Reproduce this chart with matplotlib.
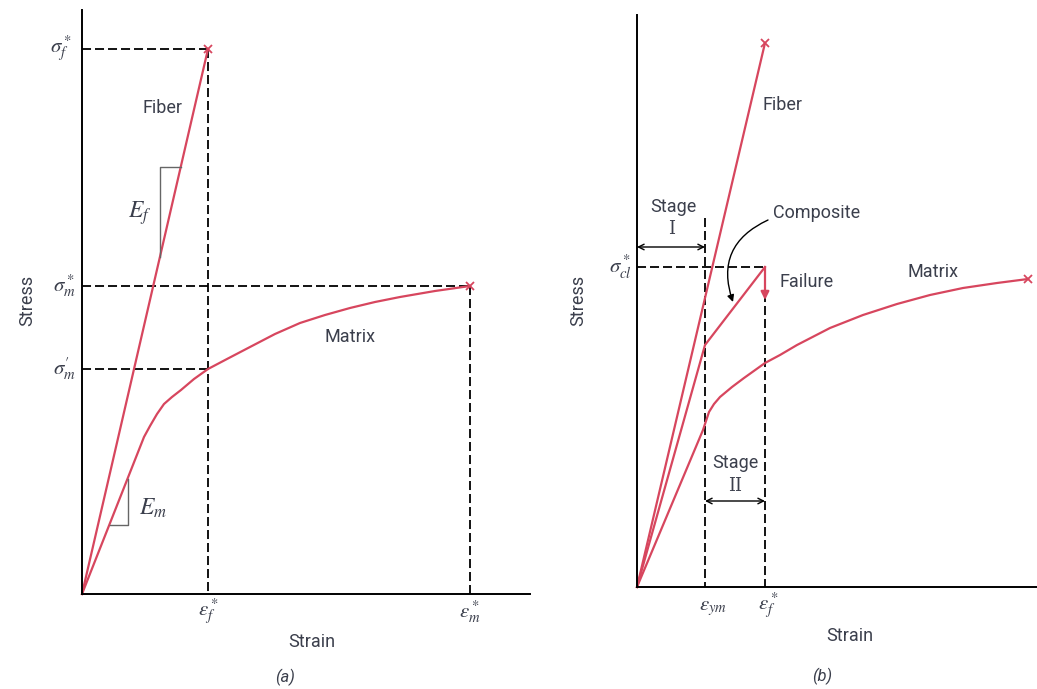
import matplotlib
matplotlib.use("Agg")
import matplotlib.pyplot as plt

plt.rcParams['font.family'] = ['Roboto', 'DejaVu Sans']
plt.rcParams['mathtext.fontset'] = 'stix'

RED = '#d7465e'
TXT = '#3b3f4c'

# ---- panel (a) data (arbitrary strain / stress units) ----
fiber_a_strain = [0, 126]
fiber_a_stress = [0, 545]
matrix_a_strain = [0, 62, 68, 75, 82, 90, 99, 112, 126, 145, 168, 193, 218, 243, 268, 293, 318, 353, 388]
matrix_a_stress = [0, 157, 168, 180, 190, 197, 204, 215, 225, 235, 247, 260, 271, 279, 286, 292, 297, 303, 308]
ef_tri_x = [78, 78, 99]
ef_tri_y = [337, 427, 427]
em_tri_x = [28, 46, 46]
em_tri_y = [69, 69, 115]

# ---- panel (b) data ----
fiber_b_strain = [0, 128]
fiber_b_stress = [0, 544]
comp_b_strain = [0, 68, 128]
comp_b_stress = [0, 242, 320]
matrix_b_strain = [0, 66, 69, 72, 77, 83, 95, 107, 128, 143, 160, 193, 226, 260, 293, 326, 360, 391]
matrix_b_stress = [0, 157, 166, 175, 183, 190, 200, 209, 224, 232, 242, 259, 272, 283, 292, 299, 304, 308]
eps_ym = 68
sigma_cl = 320
failure_drop = 287

W, H = 1037, 689
fig = plt.figure(figsize=(W / 100, H / 100), dpi=100)


def make_axes(x0, y0, x1, y1):
    ax = fig.add_axes([x0 / W, (H - y1) / H, (x1 - x0) / W, (y1 - y0) / H])
    ax.set_xlim(0, x1 - x0)
    ax.set_ylim(0, y1 - y0)
    for s in ['top', 'right']:
        ax.spines[s].set_visible(False)
    for s in ['left', 'bottom']:
        ax.spines[s].set_linewidth(1.4)
        ax.spines[s].set_color('black')
    ax.set_xticks([])
    ax.set_yticks([])
    ax.patch.set_alpha(0)
    return ax


def dashed(ax, xs, ys):
    ax.plot(xs, ys, color='black', lw=1.3, dashes=(5, 2.2), clip_on=False)


# ================= (a) =================
ax = make_axes(82, 10, 530, 594)
fx, fy = fiber_a_strain[-1], fiber_a_stress[-1]
mx, my = matrix_a_strain[-1], matrix_a_stress[-1]
ef_x = fx
em_y = matrix_a_stress[matrix_a_strain.index(126)]

dashed(ax, [0, fx], [fy, fy])
dashed(ax, [fx, fx], [fy, 0])
dashed(ax, [0, mx], [my, my])
dashed(ax, [mx, mx], [my, 0])
dashed(ax, [0, ef_x], [em_y, em_y])

ax.plot(fiber_a_strain, fiber_a_stress, color=RED, lw=1.6, clip_on=False)
ax.plot(matrix_a_strain, matrix_a_stress, color=RED, lw=1.6, clip_on=False,
        solid_joinstyle='round')
ax.plot([fx], [fy], 'x', color=RED, ms=6, mew=1.3, clip_on=False)
ax.plot([mx], [my], 'x', color=RED, ms=6, mew=1.3, clip_on=False)
ax.plot(ef_tri_x, ef_tri_y, color='#666666', lw=1.0)
ax.plot(em_tri_x, em_tri_y, color='#666666', lw=1.0)

ax.text(80, 486, 'Fiber', fontsize=13, color=TXT, ha='center', va='center')
ax.text(268, 257, 'Matrix', fontsize=13, color=TXT, ha='center', va='center')
ax.text(58, 381, r'$E_f$', fontsize=17, color=TXT, ha='center', va='center')
ax.text(71, 86, r'$E_m$', fontsize=17, color=TXT, ha='center', va='center')
ax.text(-10, fy, r'$\sigma_f^*$', fontsize=15, color=TXT, ha='right', va='center')
ax.text(-6, my, r'$\sigma_m^*$', fontsize=15, color=TXT, ha='right', va='center')
ax.text(-6, em_y, r"$\sigma_m^{\prime}$", fontsize=15, color=TXT, ha='right', va='center')
ax.text(fx, -18, r'$\varepsilon_f^*$', fontsize=15, color=TXT, ha='center', va='center')
ax.text(mx, -18, r'$\varepsilon_m^*$', fontsize=15, color=TXT, ha='center', va='center')
ax.text(230, -48, 'Strain', fontsize=13, color=TXT, ha='center', va='center')
ax.text(203, -83, '(a)', fontsize=12, color=TXT, ha='center', va='center', style='italic')
ax.text(-55, 294, 'Stress', fontsize=13, color=TXT, ha='center', va='center', rotation=90)

# ================= (b) =================
bx = make_axes(637, 15, 1037, 587)
fx, fy = fiber_b_strain[-1], fiber_b_stress[-1]
cx, cy = comp_b_strain[-1], comp_b_stress[-1]
mx, my = matrix_b_strain[-1], matrix_b_stress[-1]

dashed(bx, [0, cx], [sigma_cl, sigma_cl])
dashed(bx, [eps_ym, eps_ym], [369, 0])
dashed(bx, [cx, cx], [cy, 0])

bx.plot(fiber_b_strain, fiber_b_stress, color=RED, lw=1.6, clip_on=False)
bx.plot(comp_b_strain, comp_b_stress, color=RED, lw=1.6, clip_on=False)
bx.plot(matrix_b_strain, matrix_b_stress, color=RED, lw=1.6, clip_on=False,
        solid_joinstyle='round')
bx.plot([fx], [fy], 'x', color=RED, ms=6, mew=1.3, clip_on=False)
bx.plot([mx], [my], 'x', color=RED, ms=6, mew=1.3, clip_on=False)

# failure drop arrow
bx.annotate('', xy=(cx, failure_drop), xytext=(cx, cy),
            arrowprops=dict(arrowstyle='-|>', color=RED, lw=1.6,
                            mutation_scale=12, shrinkA=0, shrinkB=0))
# stage arrows
bx.annotate('', xy=(0, 340), xytext=(eps_ym, 340),
            arrowprops=dict(arrowstyle='<->', color='black', lw=1.0,
                            mutation_scale=10, shrinkA=0, shrinkB=0))
bx.annotate('', xy=(eps_ym, 86), xytext=(cx, 86),
            arrowprops=dict(arrowstyle='<->', color='black', lw=1.0,
                            mutation_scale=10, shrinkA=0, shrinkB=0))
# composite pointer
bx.annotate('', xy=(96, 285), xytext=(131, 367),
            arrowprops=dict(arrowstyle='-|>', color='black', lw=1.0,
                            mutation_scale=10, shrinkA=0, shrinkB=0,
                            connectionstyle='arc3,rad=0.45'))

bx.text(36, 380, 'Stage', fontsize=13, color=TXT, ha='center', va='center')
bx.text(35, 358, 'I', fontsize=13, color=TXT, ha='center', va='center', family='DejaVu Serif')
bx.text(98, 124, 'Stage', fontsize=13, color=TXT, ha='center', va='center')
bx.text(98, 101, 'II', fontsize=13, color=TXT, ha='center', va='center', family='DejaVu Serif')
bx.text(136, 374, 'Composite', fontsize=13, color=TXT, ha='left', va='center')
bx.text(170, 305, 'Failure', fontsize=13, color=TXT, ha='center', va='center')
bx.text(296, 315, 'Matrix', fontsize=13, color=TXT, ha='center', va='center')
bx.text(145, 482, 'Fiber', fontsize=13, color=TXT, ha='center', va='center')
bx.text(-5, sigma_cl, r'$\sigma_{cl}^*$', fontsize=15, color=TXT, ha='right', va='center')
bx.text(eps_ym + 8, -21, r'$\varepsilon_{ym}$', fontsize=15, color=TXT, ha='center', va='center')
bx.text(cx + 3, -19, r'$\varepsilon_f^*$', fontsize=15, color=TXT, ha='center', va='center')
bx.text(213, -49, 'Strain', fontsize=13, color=TXT, ha='center', va='center')
bx.text(185, -89, '(b)', fontsize=12, color=TXT, ha='center', va='center', style='italic')
bx.text(-59, 287, 'Stress', fontsize=13, color=TXT, ha='center', va='center', rotation=90)

fig.savefig('out.png', dpi=100, facecolor='white')
